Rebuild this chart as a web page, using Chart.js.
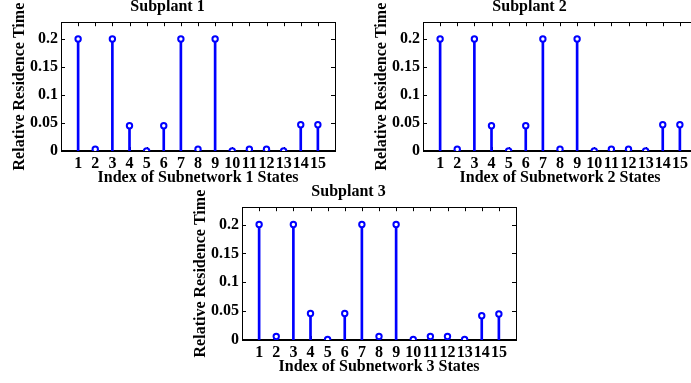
<!DOCTYPE html>
<html>
<head>
<meta charset="utf-8">
<script src="https://cdn.jsdelivr.net/npm/chart.js@4.4.0/dist/chart.umd.min.js"></script>
<style>
  html, body { margin: 0; padding: 0; background: #fff; width: 691px; height: 383px; overflow: hidden; }
  .plot { position: absolute; width: 345px; }
</style>
</head>
<body>
<div class="plot" style="left:0px; top:-3px; height:193px;"><canvas id="c1"></canvas></div>
<div class="plot" style="left:362px; top:-3px; height:193px;"><canvas id="c2"></canvas></div>
<div class="plot" style="left:181px; top:182px; height:197px;"><canvas id="c3"></canvas></div>
<script>
// state index on the x axis
var stateIndex = [1, 2, 3, 4, 5, 6, 7, 8, 9, 10, 11, 12, 13, 14, 15];

// relative residence time per subplant
var sub1Values = [0.2, 0.003, 0.2, 0.045, 0, 0.045, 0.2, 0.003, 0.2, 0, 0.003, 0.003, 0, 0.047, 0.047];
var sub2Values = [0.2, 0.003, 0.2, 0.045, 0, 0.045, 0.2, 0.003, 0.2, 0, 0.003, 0.003, 0, 0.047, 0.047];
var sub3Values = [0.2, 0.006, 0.2, 0.046, 0.001, 0.046, 0.2, 0.006, 0.2, 0.001, 0.006, 0.006, 0.001, 0.042, 0.045];

var yTickValues = [0, 0.05, 0.1, 0.15, 0.2];
var titles = ["Subplant 1", "Subplant 2", "Subplant 3"];
var xTitles = ["Index of Subnetwork 1 States", "Index of Subnetwork 2 States", "Index of Subnetwork 3 States"];

var font = "'Liberation Serif', 'Times New Roman', serif";
var stemColor = "#0000ff";

// box, inward ticks and baseline like a matlab stem plot
var boxPlugin = {
  id: "box",
  beforeDatasetsDraw: function(chart) {
    var ctx = chart.ctx, a = chart.chartArea, x = chart.scales.x, y = chart.scales.y;
    ctx.save();
    ctx.strokeStyle = "#000";
    ctx.lineWidth = 1;
    ctx.strokeRect(Math.round(a.left) + 0.5, Math.round(a.top) + 0.5, Math.round(a.right - a.left), Math.round(a.bottom - a.top));
    ctx.beginPath();
    x.ticks.forEach(function(t) {
      var px = Math.round(x.getPixelForValue(t.value)) + 0.5;
      ctx.moveTo(px, a.top); ctx.lineTo(px, a.top + 4);
      ctx.moveTo(px, a.bottom); ctx.lineTo(px, a.bottom - 4);
    });
    y.ticks.forEach(function(t) {
      var py = Math.round(y.getPixelForValue(t.value)) + 0.5;
      ctx.moveTo(a.left, py); ctx.lineTo(a.left + 4, py);
      ctx.moveTo(a.right, py); ctx.lineTo(a.right - 4, py);
    });
    ctx.stroke();
    var y0 = y.getPixelForValue(0);
    ctx.lineWidth = 2;
    ctx.beginPath();
    ctx.moveTo(a.left, y0); ctx.lineTo(a.right, y0);
    ctx.stroke();
    ctx.restore();
  }
};

function makeStem(id, values, title, xTitle) {
  var pts = stateIndex.map(function(s, i) { return { x: s, y: values[i] }; });
  new Chart(document.getElementById(id), {
    type: "bar",
    data: {
      datasets: [{
        type: "line",
        data: pts,
        showLine: false,
        pointRadius: 2.7,
        pointBorderWidth: 2,
        pointBorderColor: stemColor,
        pointBackgroundColor: "#fff",
        order: 0
      }, {
        type: "bar",
        data: pts,
        backgroundColor: stemColor,
        barThickness: 2,
        order: 1
      }]
    },
    options: {
      responsive: true,
      maintainAspectRatio: false,
      animation: false,
      layout: { padding: { right: 10, left: 0, top: 0, bottom: 0 } },
      plugins: {
        legend: { display: false },
        tooltip: { enabled: false },
        title: {
          display: true,
          text: title,
          color: "#000",
          font: { family: font, size: 16, weight: "bold" },
          padding: { top: 0, bottom: 6 }
        }
      },
      scales: {
        x: {
          type: "linear",
          min: 0,
          max: 16,
          offset: false,
          grid: { display: false, drawTicks: false },
          border: { display: false },
          afterBuildTicks: function(scale) {
            scale.ticks = stateIndex.map(function(v) { return { value: v }; });
          },
          ticks: {
            autoSkip: false,
            maxRotation: 0,
            padding: 3,
            color: "#000",
            font: { family: font, size: 16, weight: "bold" },
            callback: function(v) { return String(v); }
          },
          title: {
            display: true,
            text: xTitle,
            color: "#000",
            padding: { top: 0, bottom: 3 },
            font: { family: font, size: 16, weight: "bold" }
          },
          afterFit: function(scale) { scale.height = 39; }
        },
        y: {
          min: 0,
          max: 0.23,
          grid: { display: false, drawTicks: false },
          border: { display: false },
          afterBuildTicks: function(scale) {
            scale.ticks = yTickValues.map(function(v) { return { value: v }; });
          },
          ticks: {
            padding: 3,
            color: "#000",
            font: { family: font, size: 16, weight: "bold" },
            callback: function(v) { return String(Number(v.toFixed(2))); }
          },
          title: {
            display: true,
            text: "Relative Residence Time",
            color: "#000",
            padding: { top: 10, bottom: 0 },
            font: { family: font, size: 16, weight: "bold" }
          },
          afterFit: function(scale) { scale.width = 61; }
        }
      }
    },
    plugins: [boxPlugin]
  });
}

makeStem("c1", sub1Values, titles[0], xTitles[0]);
makeStem("c2", sub2Values, titles[1], xTitles[1]);
makeStem("c3", sub3Values, titles[2], xTitles[2]);
</script>
</body>
</html>
